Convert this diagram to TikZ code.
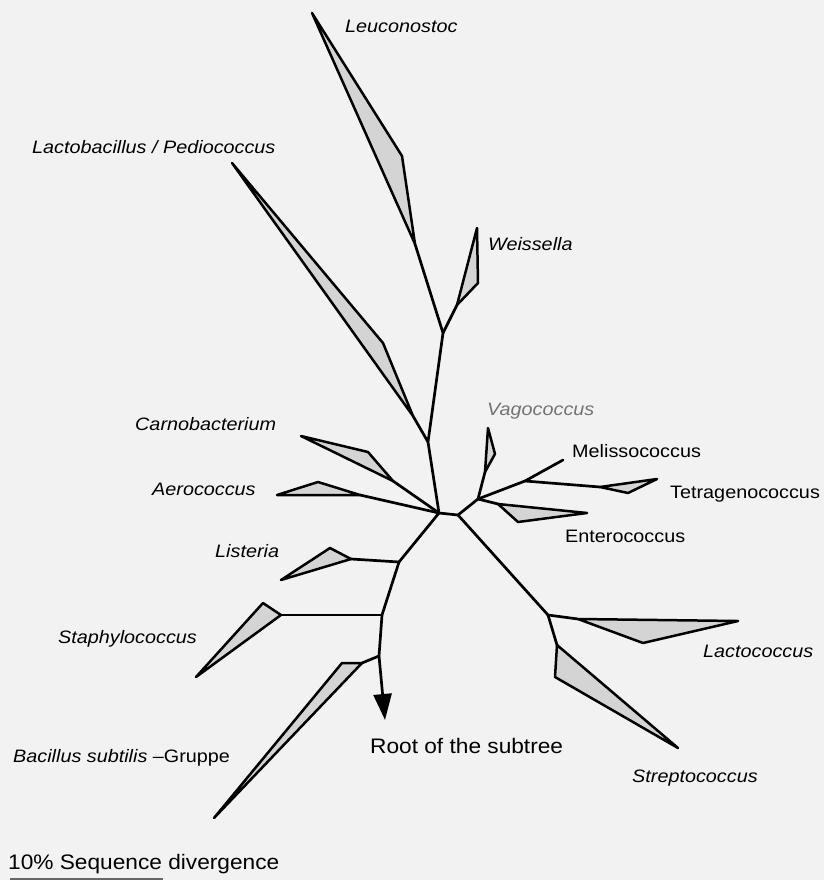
\documentclass[tikz,border=0pt]{standalone}
\usepackage{fontspec}
\usetikzlibrary{arrows.meta}
\newfontfamily\labfont[FakeStretch=1.1]{Liberation Sans}
\newfontfamily\plainfont[FakeStretch=1.08]{Liberation Sans}
\definecolor{bgc}{HTML}{F2F2F2}
\definecolor{wedge}{HTML}{D4D4D4}
\tikzset{
  branch/.style={line width=2.7pt, line cap=round, line join=round},
  clade/.style={line width=2.5pt, line join=round, fill=wedge, draw=black},
  lab/.style={anchor=base west, inner sep=0pt, font=\labfont\fontsize{18}{20}\selectfont\itshape},
  labup/.style={anchor=base west, inner sep=0pt, font=\labfont\fontsize{18}{20}\selectfont},
  plain/.style={anchor=base west, inner sep=0pt, font=\plainfont\fontsize{21}{24}\selectfont}
}
\begin{document}
\begin{tikzpicture}[x=1pt,y=-1pt]
\fill[bgc] (0,0) rectangle (824,880);
\useasboundingbox (0,0) rectangle (824,880);
% inner nodes
\coordinate (hubL) at (439,513);
\coordinate (hubR) at (458,515);
\coordinate (A) at (428,442);
\coordinate (B) at (443,333);
\coordinate (C) at (399,562);
\coordinate (D) at (382,615);
\coordinate (E) at (379,656);
\coordinate (rootTip) at (385,720);
\coordinate (F) at (478,499);
\coordinate (H) at (525,481);
\coordinate (melE) at (563,460);
\coordinate (I) at (548,615);
% clade wedges
\coordinate (leuB) at (415,244); \coordinate (leuW) at (402,156); \coordinate (leuT) at (312,13);
\coordinate (weiB) at (457,305); \coordinate (weiW) at (478,283); \coordinate (weiT) at (477,228);
\coordinate (lacB) at (413,416); \coordinate (lacW) at (383,343); \coordinate (lacT) at (232,163);
\coordinate (carB) at (393,481); \coordinate (carW) at (368,452); \coordinate (carT) at (301,436);
\coordinate (aerB) at (360,495); \coordinate (aerW) at (318,482); \coordinate (aerT) at (277,495);
\coordinate (lisB) at (351,559); \coordinate (lisW) at (330,548); \coordinate (lisT) at (281,580);
\coordinate (staB) at (281,615); \coordinate (staW) at (263,603); \coordinate (staT) at (196,677);
\coordinate (bacB) at (362,663); \coordinate (bacW) at (342,663); \coordinate (bacT) at (214,818);
\coordinate (vagB) at (485,472); \coordinate (vagW) at (495,454); \coordinate (vagT) at (488,428);
\coordinate (tetB) at (600,487); \coordinate (tetW) at (628,493); \coordinate (tetT) at (657,479);
\coordinate (entB) at (498,504); \coordinate (entW) at (518,522); \coordinate (entT) at (587,513);
\coordinate (lcB) at (578,619); \coordinate (lcW) at (643,643); \coordinate (lcT) at (738,621);
\coordinate (stB) at (557,645); \coordinate (stW) at (555,677); \coordinate (stT) at (678,748);

% wedges
\foreach \n in {leu,wei,lac,car,aer,lis,sta,bac,vag,tet,ent,lc,st}{
  \draw[clade] (\n B) -- (\n W) -- (\n T) -- cycle;
}
% branches
\draw[branch] (hubL) -- (hubR);
\draw[branch] (hubL) -- (A) -- (B) -- (leuB);
\draw[branch] (B) -- (weiB);
\draw[branch] (A) -- (lacB);
\draw[branch] (hubL) -- (carB);
\draw[branch] (hubL) -- (aerB);
\draw[branch] (hubL) -- (C) -- (D) -- (E);
\draw[branch] (C) -- (lisB);
\draw[branch] (D) -- (staB);
\draw[branch] (E) -- (bacB);
\draw[branch, -{Triangle[width=18pt,length=26pt]}] (E) -- (rootTip);
\draw[branch] (hubR) -- (F) -- (vagB);
\draw[branch] (F) -- (H) -- (melE);
\draw[branch] (H) -- (tetB);
\draw[branch] (F) -- (entB);
\draw[branch] (hubR) -- (I) -- (lcB);
\draw[branch] (I) -- (stB);

% labels
\node[lab] (tLeu) at (345,33) {Leuconostoc};
\node[lab] (tLac) at (32,153) {Lactobacillus / Pediococcus};
\node[lab] (tWei) at (488,250) {Weissella};
\node[lab] (tCar) at (135,430) {Carnobacterium};
\node[lab] (tAer) at (152,495) {Aerococcus};
\node[lab] (tLis) at (215,557) {Listeria};
\node[lab] (tSta) at (58,643) {Staphylococcus};
\node[labup] (tBac) at (13,762) {\itshape Bacillus subtilis\upshape{} –Gruppe};
\node[lab, text=black!55] (tVag) at (487,415) {Vagococcus};
\node[labup] (tMel) at (572,457) {Melissococcus};
\node[labup] (tTet) at (670,498) {Tetragenococcus};
\node[labup] (tEnt) at (565,542) {Enterococcus};
\node[lab] (tLc) at (703,657) {Lactococcus};
\node[lab] (tSt) at (632,782) {Streptococcus};
\node[plain] (tRoot) at (370,753) {Root of the subtree};
\node[plain] (tScale) at (8,869) {10\% Sequence divergence};
\coordinate (sc1) at (10,879);
\coordinate (sc2) at (163,879);
\draw[line width=2pt, black!60] (sc1) -- (sc2);
\end{tikzpicture}
\end{document}
